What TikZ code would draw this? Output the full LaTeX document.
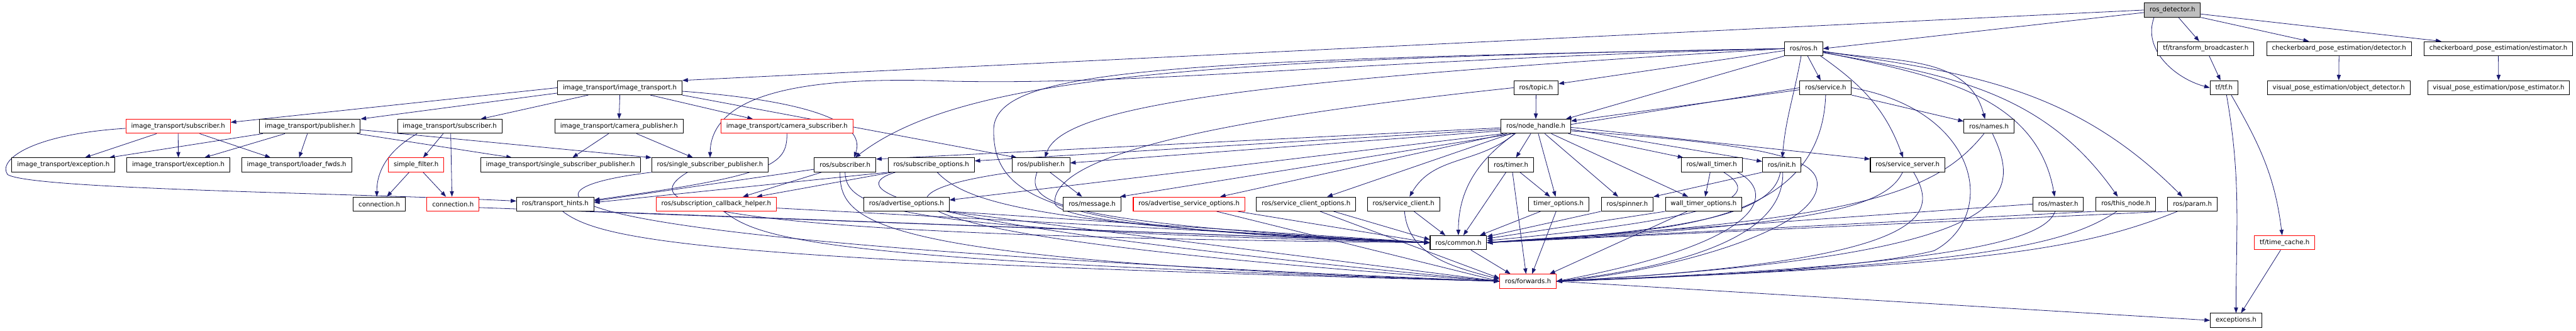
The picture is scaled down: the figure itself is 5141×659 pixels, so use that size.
\documentclass[tikz,border=0pt]{standalone}
\usepackage{fontspec}
\setmainfont{DejaVu Sans}
\usetikzlibrary{arrows.meta,calc}
\definecolor{edgecol}{HTML}{191970}
\definecolor{rootfill}{HTML}{BFBFBF}
\pgfdeclarelayer{background}
\pgfsetlayers{background,main}
\tikzset{
  box/.style={draw=black, line width=1.3pt, fill=white, inner xsep=10.5pt, inner ysep=0pt,
    minimum height=28pt, font=\fontsize{12.8}{15}\selectfont},
  redbox/.style={box, draw=red},
  rootbox/.style={box, fill=rootfill},
  e/.style={draw=edgecol, line width=1pt, -{Triangle[length=11pt,width=8pt]}}
}
\begin{document}
\begin{tikzpicture}[x=1pt,y=1pt]
\useasboundingbox (0,0) rectangle (5141,-659);
% row 0
\node[rootbox] (det) at (4335.5,-20) {ros\_detector.h};
% row 1
\node[box] (ros) at (3599.5,-97) {ros/ros.h};
\node[box] (tfb) at (4402,-97) {tf/transform\_broadcaster.h};
\node[box] (cbd) at (4668,-97) {checkerboard\_pose\_estimation/detector.h};
\node[box] (cbe) at (4986,-97) {checkerboard\_pose\_estimation/estimator.h};
% row 2
\node[box] (it) at (1237,-175) {image\_transport/image\_transport.h};
\node[box] (topic) at (3065.5,-175) {ros/topic.h};
\node[box] (service) at (3643.5,-175) {ros/service.h};
\node[box] (tf) at (4438.5,-175) {tf/tf.h};
\node[box] (vod) at (4667.5,-175) {visual\_pose\_estimation/object\_detector.h};
\node[box] (vpe) at (4986.5,-175) {visual\_pose\_estimation/pose\_estimator.h};
% row 3
\node[redbox] (itsubr) at (355.5,-252) {image\_transport/subscriber.h};
\node[box] (itpub) at (618.5,-252) {image\_transport/publisher.h};
\node[box] (itsub) at (897.5,-252) {image\_transport/subscriber.h};
\node[box] (campub) at (1235.5,-252) {image\_transport/camera\_publisher.h};
\node[redbox] (camsub) at (1570.5,-252) {image\_transport/camera\_subscriber.h};
\node[box] (nh) at (3065,-252) {ros/node\_handle.h};
\node[box] (names) at (3969.5,-252) {ros/names.h};
% row 4
\node[box] (exc1) at (126.5,-329) {image\_transport/exception.h};
\node[box] (exc2) at (356,-329) {image\_transport/exception.h};
\node[box] (loader) at (592,-329) {image\_transport/loader\_fwds.h};
\node[redbox] (sf) at (830.5,-329) {simple\_filter.h};
\node[box] (itssp) at (1118.5,-329) {image\_transport/single\_subscriber\_publisher.h};
\node[box] (rssp) at (1417,-329) {ros/single\_subscriber\_publisher.h};
\node[box] (rsub) at (1686.5,-329) {ros/subscriber.h};
\node[box] (subopt) at (1858.5,-329) {ros/subscribe\_options.h};
\node[box] (rpub) at (2077.5,-329) {ros/publisher.h};
\node[box] (timer) at (3015.5,-329) {ros/timer.h};
\node[box] (wtimer) at (3416,-329) {ros/wall\_timer.h};
\node[box] (init) at (3556,-329) {ros/init.h};
\node[box] (ssrv) at (3807,-329) {ros/service\_server.h};
% row 5
\node[box] (conn) at (757,-407) {connection.h};
\node[redbox] (connr) at (904,-407) {connection.h};
\node[box] (th) at (1108,-407) {ros/transport\_hints.h};
\node[redbox] (sch) at (1429.5,-407) {ros/subscription\_callback\_helper.h};
\node[box] (advopt) at (1809,-407) {ros/advertise\_options.h};
\node[box] (msg) at (2179.5,-407) {ros/message.h};
\node[redbox] (advsrv) at (2373,-407) {ros/advertise\_service\_options.h};
\node[box] (sco) at (2606.5,-407) {ros/service\_client\_options.h};
\node[box] (sc) at (2801,-407) {ros/service\_client.h};
\node[box] (topt) at (3110.5,-407) {timer\_options.h};
\node[box] (spin) at (3247.5,-407) {ros/spinner.h};
\node[box] (wtopt) at (3400,-407) {wall\_timer\_options.h};
\node[box] (master) at (4107.5,-407) {ros/master.h};
\node[box] (thisnode) at (4242.5,-407) {ros/this\_node.h};
\node[box] (param) at (4375.5,-407) {ros/param.h};
% row 6-8
\node[box] (common) at (2910.5,-484) {ros/common.h};
\node[redbox] (tc) at (4559.5,-484) {tf/time\_cache.h};
\node[redbox] (fwd) at (3049.5,-561) {ros/forwards.h};
\node[box] (exc) at (4462.5,-639) {exceptions.h};

\begin{pgfonlayer}{background}
\fill[white] (0,0) rectangle (5141,-659);
% ros_detector
\draw[e] ($(det.west)+(0,-5)$) -- (ros.east);
\draw[e] (det.west) -- (it.north east);
\draw[e] ($(det.south west)+(20,0)$) to[out=250,in=165] (tf.west);
\draw[e] ($(det.south)+(12,0)$) -- ($(tfb.north)+(-13,0)$);
\draw[e] (det.south east) -- ($(cbd.north)+(-60,0)$);
\draw[e] ($(det.east)+(0,-8)$) -- ($(cbe.north west)+(35,0)$);
\draw[e] ($(tfb.south)+(7,0)$) -- ($(tf.north)+(-7,0)$);
\draw[e] (cbd.south) -- (vod.north);
\draw[e] (cbe.south) -- (vpe.north);
\draw[e] ($(tf.south)+(5,0)$) to[out=-80,in=90] (exc.north);
\draw[e] ($(tf.south east)+(-14,0)$) to[out=-60,in=97] ($(tc.north)+(-5,0)$);
\draw[e] ($(tc.south)+(-8,0)$) -- ($(exc.north)+(10,0)$);
\draw[e] (fwd.east) -- (exc.west);
% ros.h
\draw[e] ($(ros.south)+(8,0)$) -- ($(service.north)+(-10,0)$);
\draw[e] ($(ros.east)+(0,-5)$) to[out=-10,in=105] ($(names.north)+(-8,0)$);
\draw[e] ($(ros.south)+(-5,0)$) to[out=-100,in=85] ($(init.north)+(1,0)$);
\draw[e] ($(ros.south east)+(-5,0)$) to[out=-35,in=110] ($(ssrv.north)+(-9,0)$);
\draw[e] ($(ros.east)+(0,-7)$) to[out=-12,in=100] ($(master.north)+(-7,0)$);
\draw[e] ($(ros.east)+(0,-8)$) to[out=-10,in=125] ($(thisnode.north)+(-16,0)$);
\draw[e] ($(ros.east)+(0,-6)$) to[out=-8,in=135] ($(param.north)+(-20,0)$);
\draw[e] (ros.south west) -- ($(nh.north east)+(-10,0)$);
\draw[e] ($(ros.west)+(0,-4)$) -- ($(topic.east)+(0,8)$);
\draw[e] (ros.west) .. controls (2400,-118) and (1920,-150) .. ($(rsub.north)+(20,0)$);
\draw[e] (ros.west) .. controls (2500,-160) and (2120,-210) .. ($(rpub.north)+(8,0)$);
\draw[e] (ros.west) .. controls (2700,-120) and (2300,-170) .. (1900,-162) .. controls (1700,-155) and (1420,-160) .. (rssp.north);
\draw[e] (ros.west) .. controls (2300,-120) and (1983,-140) .. (1983,-260) .. controls (1983,-400) and (2100,-460) .. (common.west);
% service.h
\draw[e] (service.south east) -- ($(names.west)+(0,10)$);
\draw[e] ($(service.west)+(0,-4)$) -- ($(nh.north east)+(0,-4)$);
\draw[e] (service.west) -- ($(msg.north east)+(-2,0)$);
\draw[e] (service.south) to[out=-92,in=5] (common.east);
\draw[e] (service.east) .. controls (3950,-220) and (3990,-430) .. (3860,-500) .. controls (3700,-540) and (3300,-555) .. (fwd.east);
% topic.h
\draw[e] (topic.south) -- (nh.north);
\draw[e] (topic.west) .. controls (2500,-230) and (2100,-300) .. (2105,-405) .. controls (2110,-445) and (2500,-470) .. (common.west);
% node_handle.h
\draw[e] ($(nh.south)+(-10,0)$) -- ($(timer.north)+(10,0)$);
\draw[e] ($(nh.south)+(5,0)$) -- ($(topt.north)+(-6,0)$);
\draw[e] ($(nh.south)+(18,0)$) -- ($(spin.north)+(-18,0)$);
\draw[e] ($(nh.south)+(31,0)$) -- ($(wtopt.north)+(-31,0)$);
\draw[e] ($(nh.south east)+(-5,0)$) -- ($(wtimer.north west)+(5,0)$);
\draw[e] ($(nh.south)+(-41,0)$) to[out=215,in=90] (common.north);
\draw[e] ($(nh.east)+(0,-6)$) -- ($(init.west)+(0,7)$);
\draw[e] ($(nh.east)+(0,-2)$) -- ($(ssrv.north west)+(0,-3)$);
\draw[e] ($(nh.east)+(0,-9)$) .. controls (3560,-290) and (3640,-320) .. (3625,-380) .. controls (3600,-470) and (3300,-545) .. (fwd.east);
\draw[e] ($(nh.west)+(0,-3)$) -- ($(rsub.north east)+(0,-3)$);
\draw[e] ($(nh.west)+(0,-6)$) -- ($(subopt.east)+(0,8)$);
\draw[e] ($(nh.west)+(0,-9)$) -- ($(rpub.east)+(0,4)$);
\draw[e] ($(nh.south west)+(5,0)$) -- ($(advopt.east)+(0,8)$);
\draw[e] ($(nh.south west)+(12,0)$) -- ($(advsrv.north)+(62,0)$);
\draw[e] ($(nh.south west)+(20,0)$) -- ($(sco.north)+(42,0)$);
\draw[e] ($(nh.south west)+(28,0)$) to[out=-140,in=60] ($(sc.north)+(12,0)$);
% image_transport.h
\draw[e] (it.west) -- ($(itsubr.east)+(0,8)$);
\draw[e] ($(it.south west)+(0,4)$) -- (itpub.north east);
\draw[e] ($(it.south)+(-63,0)$) -- ($(itsub.north east)+(-43,0)$);
\draw[e] (it.south) -- (campub.north);
\draw[e] ($(it.south)+(61,0)$) -- ($(camsub.north)+(-68,0)$);
\draw[e] ($(it.east)+(0,-7)$) .. controls (1600,-200) and (1730,-240) .. ($(rsub.north)+(18,0)$);
\draw[e] (it.south east) -- ($(rpub.north west)+(10,0)$);
% image_transport/publisher.h
\draw[e] ($(itpub.south west)+(7,0)$) -- ($(exc1.north east)+(-12,0)$);
\draw[e] ($(itpub.south)+(-50,0)$) -- ($(exc2.north)+(52,0)$);
\draw[e] ($(itpub.south)+(-5,0)$) -- ($(loader.north)+(5,0)$);
\draw[e] ($(itpub.south east)+(-7,0)$) -- ($(itssp.north west)+(63,0)$);
\draw[e] ($(itpub.east)+(0,-7)$) -- (rssp.north west);
% image_transport/subscriber.h (red)
\draw[e] ($(itsubr.south)+(-43,0)$) -- ($(exc1.north)+(43,0)$);
\draw[e] (itsubr.south) -- (exc2.north);
\draw[e] ($(itsubr.south)+(43,0)$) -- ($(loader.north)+(-52,0)$);
\draw[e] ($(itsubr.west)+(0,-4)$) .. controls (60,-268) and (-5,-320) .. (15,-348) .. controls (60,-378) and (700,-385) .. ($(th.west)+(0,6)$);
% image_transport/subscriber.h (black)
\draw[e] ($(itsub.south)+(-65,0)$) to[out=210,in=90] ($(conn.north)+(-5,0)$);
\draw[e] ($(itsub.south)+(-13,0)$) -- ($(sf.north)+(14,0)$);
\draw[e] ($(itsub.south)+(2,0)$) -- ($(connr.north)+(-2,0)$);
% simple_filter.h
\draw[e] ($(sf.south)+(-14,0)$) -- ($(conn.north)+(15,0)$);
\draw[e] ($(sf.south)+(14,0)$) -- ($(connr.north)+(-14,0)$);
% camera publisher / subscriber
\draw[e] ($(campub.south)+(-21,0)$) -- ($(itssp.north)+(24,0)$);
\draw[e] ($(campub.south)+(35,0)$) -- ($(rssp.north)+(-34,0)$);
\draw[e] (camsub.south) .. controls (1571,-330) and (1540,-350) .. ($(th.east)+(0,8)$);
% ros/subscriber.h
\draw[e] ($(rsub.south west)+(0,6)$) -- ($(th.east)+(0,6)$);
\draw[e] ($(rsub.south west)+(15,0)$) -- ($(sch.north)+(53,0)$);
\draw[e] (rsub.south) .. controls (1688,-420) and (1800,-460) .. (common.west);
\draw[e] ($(rsub.south)+(-10,0)$) .. controls (1675,-450) and (1750,-520) .. (fwd.west);
% ros/subscribe_options.h
\draw[e] (subopt.south west) -- ($(th.east)+(0,3)$);
\draw[e] ($(subopt.south west)+(8,0)$) -- ($(sch.north east)+(-40,0)$);
\draw[e] ($(subopt.south)+(12,0)$) .. controls (1925,-400) and (2050,-450) .. (common.west);
\draw[e] ($(subopt.south west)+(15,0)$) .. controls (1700,-370) and (1690,-440) .. (fwd.west);
% ros/publisher.h
\draw[e] ($(rpub.south)+(18,0)$) -- ($(msg.north)+(-20,0)$);
\draw[e] ($(rpub.south)+(-8,0)$) .. controls (2050,-400) and (2080,-445) .. (common.west);
\draw[e] (rpub.south west) .. controls (1720,-385) and (1690,-470) .. (fwd.west);
% ros/single_subscriber_publisher.h
\draw[e] ($(rssp.south)+(-45,0)$) .. controls (1280,-400) and (1300,-470) .. (common.west);
\draw[e] (rssp.south west) .. controls (1000,-380) and (990,-480) .. (fwd.west);
% transport hints, callback helper, connection
\draw[e] (th.south east) -- (common.west);
\draw[e] ($(th.south)+(15,0)$) .. controls (1200,-480) and (1400,-520) .. (fwd.west);
\draw[e] ($(sch.east)+(0,-8)$) -- (common.west);
\draw[e] ($(sch.south)+(15,0)$) .. controls (1520,-480) and (1650,-520) .. (fwd.west);
\draw[e] ($(connr.east)+(0,-7)$) -- (common.west);
% options / clients
\draw[e] (advopt.south east) -- (common.west);
\draw[e] ($(advopt.south east)+(-5,0)$) -- (fwd.west);
\draw[e] ($(advsrv.south east)+(-15,0)$) -- (common.west);
\draw[e] ($(advsrv.south)+(55,0)$) -- (fwd.west);
\draw[e] ($(sco.south)+(55,0)$) -- ($(common.west)+(0,6)$);
\draw[e] ($(sco.south)+(28,0)$) -- ($(fwd.west)+(0,6)$);
\draw[e] ($(sc.south)+(21,0)$) -- ($(common.north)+(-26,0)$);
\draw[e] ($(sc.south)+(2,0)$) to[out=-85,in=165] ($(fwd.west)+(0,4)$);
% timers
\draw[e] ($(timer.south)+(-10,0)$) -- ($(common.north)+(10,0)$);
\draw[e] ($(timer.south)+(3,0)$) -- ($(fwd.north)+(-4,0)$);
\draw[e] ($(timer.south)+(18,0)$) -- ($(topt.north)+(-17,0)$);
\draw[e] ($(topt.south)+(-36,0)$) -- ($(common.north east)+(-14,0)$);
\draw[e] ($(topt.south)+(-5,0)$) -- ($(fwd.north)+(8,0)$);
\draw[e] (spin.south west) -- ($(common.east)+(0,12)$);
\draw[e] (wtopt.south west) -- ($(common.east)+(0,8)$);
\draw[e] ($(wtopt.south)+(-33,0)$) -- ($(fwd.north east)+(-14,0)$);
\draw[e] ($(wtimer.south)+(-3,0)$) -- ($(wtopt.north)+(3,0)$);
\draw[e] ($(wtimer.south)+(24,0)$) .. controls (3500,-380) and (3510,-430) .. ($(common.east)+(0,4)$);
\draw[e] ($(wtimer.south east)+(-10,0)$) .. controls (3540,-380) and (3540,-480) .. (fwd.east);
% init, service server, names, master, this node, param
\draw[e] (init.south west) -- (spin.north east);
\draw[e] ($(init.south)+(-3,0)$) .. controls (3540,-420) and (3400,-460) .. (common.east);
\draw[e] ($(init.south)+(2,0)$) .. controls (3560,-440) and (3450,-520) .. (fwd.east);
\draw[e] ($(ssrv.south)+(-10,0)$) .. controls (3760,-420) and (3600,-450) .. (common.east);
\draw[e] ($(ssrv.south)+(12,0)$) .. controls (3870,-430) and (3860,-520) .. (fwd.east);
\draw[e] ($(names.south)+(-10,0)$) .. controls (3860,-390) and (3700,-440) .. (common.east);
\draw[e] ($(names.south)+(7,0)$) .. controls (4040,-400) and (4020,-510) .. (fwd.east);
\draw[e] (master.west) -- (common.east);
\draw[e] ($(master.south)+(-6,0)$) .. controls (4080,-480) and (3900,-530) .. (fwd.east);
\draw[e] (thisnode.south west) -- (common.east);
\draw[e] ($(thisnode.south)+(-18,0)$) .. controls (4120,-490) and (3950,-530) .. (fwd.east);
\draw[e] (param.south west) -- (common.east);
\draw[e] ($(param.south)+(-30,0)$) .. controls (4150,-500) and (3950,-530) .. (fwd.east);
% common
\draw[e] ($(common.south)+(25,0)$) -- ($(fwd.north)+(-35,0)$);
\end{pgfonlayer}
\end{tikzpicture}
\end{document}
